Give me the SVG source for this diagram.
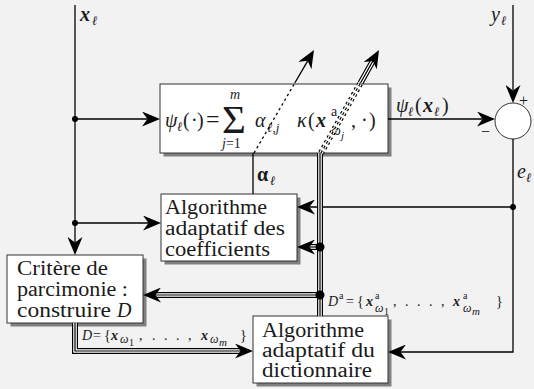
<svg xmlns="http://www.w3.org/2000/svg" width="534" height="389" viewBox="0 0 534 389">
<style>
.bg{fill:#f2f2f2}
.box{fill:#fff;stroke:#333;stroke-width:1}
.sh{fill:#808080}
.t{font-family:'Liberation Serif','DejaVu Serif',serif;font-size:20px;fill:#1a1a1a}
.s14{font-size:14px}
.s16{font-size:16px}
.it{font-style:italic}
.bx{font-weight:bold;font-style:italic}
.ln{fill:none;stroke:#000;stroke-width:1.3}
.dsh{fill:none;stroke:#000;stroke-width:1.3;stroke-dasharray:2.5 3}
.t1{fill:none;stroke:#000;stroke-width:6;stroke-linejoin:miter}
.t2{fill:none;stroke:#fff;stroke-width:3.6;stroke-linejoin:miter}
.t3{fill:none;stroke:#000;stroke-width:1.2;stroke-linejoin:miter}
.d1{fill:none;stroke:#000;stroke-width:6;stroke-dasharray:2.5 3}
.d2{fill:none;stroke:#fff;stroke-width:3.6;stroke-dasharray:2.5 3}
.d3{fill:none;stroke:#000;stroke-width:1.2;stroke-dasharray:2.5 3}
.dot{fill:#000}
</style>
<defs>
<marker id="ah" markerUnits="userSpaceOnUse" markerWidth="19" markerHeight="15" viewBox="0 0 19 15" refX="5.5" refY="7.5" orient="auto"><path d="M0,0 L18,7.5 L0,15 L5.5,7.5 Z" fill="#000"/></marker>
</defs>
<rect class="bg" x="0" y="0" width="534" height="389"/>

<g id="nodes">
<g id="filter">
<rect class="sh" x="163.5" y="87.5" width="228" height="69"/>
<rect class="box" x="160" y="84" width="228" height="69"/>
<text class="t">
<tspan x="165" y="127" class="it">ψ</tspan>
<tspan x="177" y="131" font-size="13" class="it">ℓ</tspan>
<tspan x="183" y="127">(</tspan><tspan x="191" y="127">·</tspan><tspan x="197" y="127">)</tspan>
<tspan x="206" y="127" font-size="24">=</tspan>
<tspan x="222" y="133" font-size="41">Σ</tspan>
<tspan x="230" y="99" font-size="14" class="it">m</tspan>
<tspan x="222" y="148" font-size="14" class="it">j</tspan><tspan font-size="14">=1</tspan>
<tspan x="255" y="127" class="it">α</tspan>
<tspan x="267" y="132" font-size="13" class="it">ℓ,j</tspan>
<tspan x="297" y="127" class="it">κ</tspan>
<tspan x="308" y="127">(</tspan>
<tspan x="316" y="127" class="bx">x</tspan>
<tspan x="331" y="116" font-size="14">a</tspan>
<tspan x="331" y="135" font-size="14" class="it">ω</tspan>
<tspan x="341" y="139" font-size="11" class="it">j</tspan>
<tspan x="351" y="127">,</tspan><tspan x="361" y="127">·</tspan><tspan x="369" y="127">)</tspan>
</text>
</g>
<g id="sum">
<circle cx="513" cy="121" r="18" fill="#fff" stroke="#333" stroke-width="1"/>
<text class="t s16" x="519" y="106">+</text>
<text class="t s16" x="481" y="137">−</text>
</g>
<g id="coef">
<rect class="sh" x="164.5" y="197.5" width="136" height="67"/>
<rect class="box" x="161" y="194" width="136" height="67"/>
<text class="t" x="165" y="214" textLength="102" lengthAdjust="spacingAndGlyphs">Algorithme</text>
<text class="t" x="165" y="235" textLength="120" lengthAdjust="spacingAndGlyphs">adaptatif des</text>
<text class="t" x="165" y="256" textLength="105" lengthAdjust="spacingAndGlyphs">coefficients</text>
</g>
<g id="critere">
<rect class="sh" x="10.5" y="258.5" width="136" height="68"/>
<rect class="box" x="7" y="255" width="136" height="68"/>
<text class="t" x="17" y="275" textLength="91" lengthAdjust="spacingAndGlyphs">Critère de</text>
<text class="t" x="17" y="296" textLength="111" lengthAdjust="spacingAndGlyphs">parcimonie :</text>
<text class="t" x="17" y="317"><tspan textLength="94" lengthAdjust="spacingAndGlyphs">construire</tspan><tspan x="117" y="317" class="it">D</tspan></text>
</g>
<g id="dict">
<rect class="sh" x="256.5" y="319.5" width="135" height="67"/>
<rect class="box" x="253" y="316" width="135" height="67"/>
<text class="t" x="262" y="337" textLength="102" lengthAdjust="spacingAndGlyphs">Algorithme</text>
<text class="t" x="262" y="357" textLength="113" lengthAdjust="spacingAndGlyphs">adaptatif du</text>
<text class="t" x="262" y="377" textLength="110" lengthAdjust="spacingAndGlyphs">dictionnaire</text>
</g>
</g>

<g id="connectors">
<path class="ln" d="M75,5 V242.5" marker-end="url(#ah)"/>
<path class="ln" d="M75,119 H147.5" marker-end="url(#ah)"/>
<path class="ln" d="M75,223 H148.5" marker-end="url(#ah)"/>
<path class="ln" d="M388,119 H482.5" marker-end="url(#ah)"/>
<path class="ln" d="M513,5 V90.5" marker-end="url(#ah)"/>
<path class="ln" d="M513,139 V352 H400.5" marker-end="url(#ah)"/>
<path class="ln" d="M513,207 H309.5" marker-end="url(#ah)"/>
<path class="ln" d="M253,153 V194"/>
<path class="dsh" d="M254,153 L294.8,83"/>
<path class="ln" d="M294.8,83 L307.7,60.8" marker-end="url(#ah)"/>
<g id="triple-vert"><path class="t1" d="M320,153 V316"/><path class="t2" d="M320,153 V316"/><path class="t3" d="M320,153 V316"/></g>
<g id="triple-diag"><path class="d1" d="M321,153 L360.5,83"/><path class="d2" d="M321,153 L360.5,83"/><path class="d3" d="M321,153 L360.5,83"/>
<path class="t1" d="M360.5,83 L372.9,60.9"/><path class="t2" d="M360.5,83 L372.9,60.9"/><path class="t3" d="M360.5,83 L372.9,60.9" marker-end="url(#ah)"/></g>
<g id="triple-coef"><path class="t1" d="M320,247 H309.5"/><path class="t2" d="M320,247 H309.5"/><path class="t3" d="M320,247 H309.5" marker-end="url(#ah)"/></g>
<g id="triple-crit"><path class="t1" d="M320,295 H155.5"/><path class="t2" d="M320,295 H155.5"/><path class="t3" d="M320,295 H155.5" marker-end="url(#ah)"/></g>
<g id="triple-dict"><path class="t1" d="M75,323 V351 H240.5"/><path class="t2" d="M75,323 V351 H240.5"/><path class="t3" d="M75,323 V351 H240.5" marker-end="url(#ah)"/></g>
<circle class="dot" cx="75" cy="119" r="3"/>
<circle class="dot" cx="75" cy="223" r="3"/>
<circle class="dot" cx="513" cy="207" r="3"/>
<circle class="dot" cx="320" cy="247" r="4.5"/>
<circle class="dot" cx="320" cy="295" r="4.5"/>
</g>

<g id="labels">
<text class="t"><tspan x="80" y="21" class="bx">x</tspan><tspan x="92" y="25" font-size="13" class="it">ℓ</tspan></text>
<text class="t"><tspan x="491" y="21" class="it">y</tspan><tspan x="501" y="25" font-size="13" class="it">ℓ</tspan></text>
<text class="t"><tspan x="396" y="112" class="it">ψ</tspan><tspan x="408" y="116" font-size="13" class="it">ℓ</tspan><tspan x="415" y="112">(</tspan><tspan x="423" y="112" class="bx">x</tspan><tspan x="434" y="116" font-size="13" class="it">ℓ</tspan><tspan x="442" y="112">)</tspan></text>
<text class="t"><tspan x="517" y="178" class="it">e</tspan><tspan x="526" y="182" font-size="13" class="it">ℓ</tspan></text>
<text class="t"><tspan x="257" y="181" font-weight="bold">α</tspan><tspan x="270" y="185" font-size="13" class="it">ℓ</tspan></text>
<text class="t s14"><tspan x="82" y="340" class="it">D</tspan><tspan x="93" y="340">=</tspan><tspan x="104" y="340">{</tspan><tspan x="111" y="340" class="bx">x</tspan><tspan x="120" y="343" font-size="12" class="it">ω</tspan><tspan x="129" y="346" font-size="10">1</tspan><tspan x="139" y="340">,</tspan><tspan x="152" y="340">.</tspan><tspan x="164" y="340">.</tspan><tspan x="176" y="340">.</tspan><tspan x="188" y="340">,</tspan><tspan x="201" y="340" class="bx">x</tspan><tspan x="210" y="343" font-size="12" class="it">ω</tspan><tspan x="219" y="346" font-size="11" class="it">m</tspan><tspan x="240" y="340">}</tspan></text>
<text class="t s14"><tspan x="328" y="306" class="it">D</tspan><tspan x="339" y="299" font-size="10">a</tspan><tspan x="346" y="306">=</tspan><tspan x="357" y="306">{</tspan><tspan x="366" y="306" class="bx">x</tspan><tspan x="375" y="299" font-size="10">a</tspan><tspan x="375" y="312" font-size="12" class="it">ω</tspan><tspan x="384" y="315" font-size="10">1</tspan><tspan x="393" y="306">,</tspan><tspan x="405" y="306">.</tspan><tspan x="417" y="306">.</tspan><tspan x="429" y="306">.</tspan><tspan x="441" y="306">,</tspan><tspan x="453" y="306" class="bx">x</tspan><tspan x="463" y="299" font-size="10">a</tspan><tspan x="463" y="312" font-size="12" class="it">ω</tspan><tspan x="472" y="315" font-size="11" class="it">m</tspan><tspan x="496" y="306">}</tspan></text>
</g>
</svg>
